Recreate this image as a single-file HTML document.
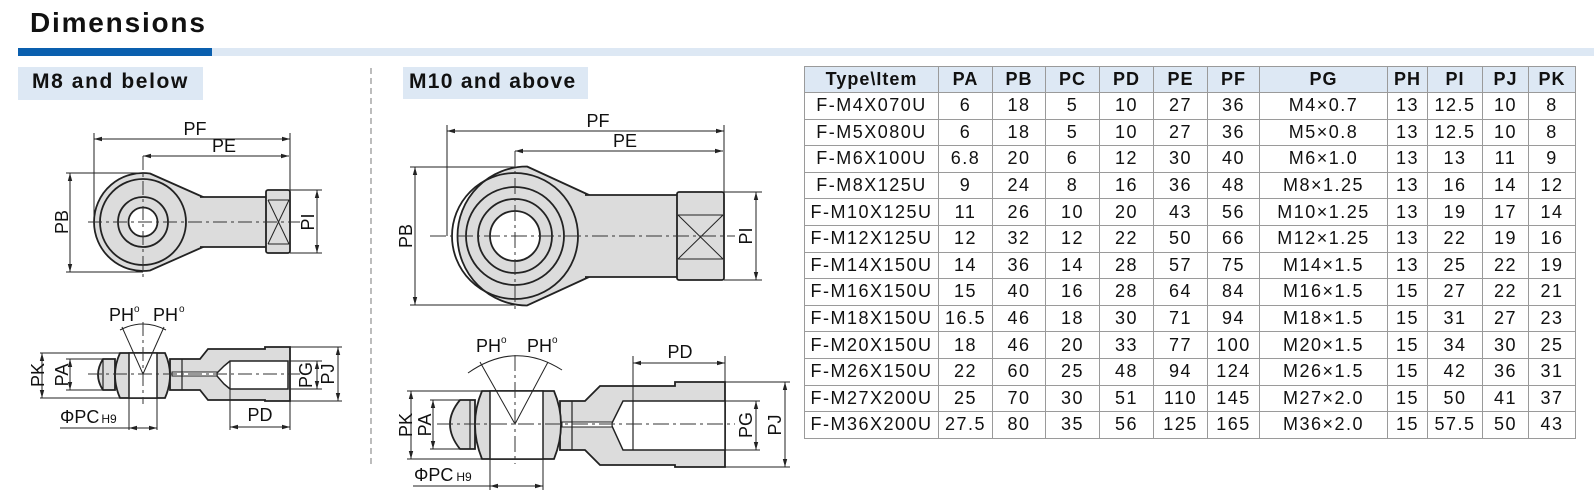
<!DOCTYPE html>
<html><head><meta charset="utf-8">
<style>
html,body{margin:0;padding:0;background:#fff;}
body{width:1594px;height:499px;position:relative;overflow:hidden;font-family:"Liberation Sans",Arial,sans-serif;}
.abs{position:absolute;}
table{border-collapse:collapse;position:absolute;left:804px;top:66px;table-layout:fixed;}
td,th{border:1px solid #9a9a9a;text-align:center;padding:0;font-size:18px;letter-spacing:1.5px;color:#111;white-space:nowrap;overflow:hidden;}
th{background:#dde8f4;font-weight:bold;height:25px;letter-spacing:1px;}
td{height:25.6px;}
</style></head><body>
<div class="abs" style="left:30px;top:7px;font-size:28px;font-weight:bold;letter-spacing:1.8px;color:#111;">Dimensions</div>
<div class="abs" style="left:18px;top:48px;width:1576px;height:8px;background:#dde8f4;"></div>
<div class="abs" style="left:18px;top:48px;width:194px;height:8px;background:#0a5fae;"></div>
<div class="abs" style="left:18px;top:67px;width:185px;height:33px;background:#dde8f4;"></div>
<div class="abs" style="left:32px;top:70px;font-size:21px;font-weight:bold;letter-spacing:1.6px;color:#111;">M8 and below</div>
<div class="abs" style="left:403px;top:67px;width:185px;height:32px;background:#dde8f4;"></div>
<div class="abs" style="left:409px;top:70px;font-size:21px;font-weight:bold;letter-spacing:1.3px;color:#111;">M10 and above</div>

<svg class="abs" style="left:0;top:0" width="800" height="499" viewBox="0 0 800 499" font-family="Liberation Sans, Arial, sans-serif" font-size="18" fill="#111">
<defs>
<marker id="a" markerWidth="8" markerHeight="6" refX="8" refY="3" orient="auto-start-reverse" markerUnits="userSpaceOnUse"><path d="M0,0.8 L8,3 L0,5.2Z" fill="#222"/></marker>
</defs>
<line x1="371" y1="68" x2="371" y2="465" stroke="#999" stroke-width="1.3" stroke-dasharray="6,4"/>

<!-- ===== LEFT TOP ===== -->
<g stroke="#222" stroke-width="1">
<line x1="94" y1="133" x2="94" y2="222"/>
<line x1="290" y1="133" x2="290" y2="190"/>
<line x1="94" y1="139" x2="290" y2="139" marker-start="url(#a)" marker-end="url(#a)"/>
<line x1="143" y1="156" x2="289" y2="156" marker-start="url(#a)" marker-end="url(#a)"/>
<line x1="66" y1="173" x2="143" y2="173"/>
<line x1="66" y1="272" x2="143" y2="272"/>
<line x1="70" y1="173" x2="70" y2="272" marker-start="url(#a)" marker-end="url(#a)"/>
<line x1="290" y1="190" x2="322" y2="190"/>
<line x1="290" y1="253" x2="322" y2="253"/>
<line x1="317" y1="190" x2="317" y2="253" marker-start="url(#a)" marker-end="url(#a)"/>
</g>
<g stroke="#222" stroke-width="1.8" fill="#dcdcdc">
<circle cx="195" cy="222" r="13"/>
<path d="M150,173.5 L203,197 L203,247 L150,270.5 A49,49 0 1 1 150,173.5Z"/>
<rect x="200" y="197" width="66" height="50" stroke="none"/>
<line x1="200" y1="197" x2="266" y2="197"/><line x1="200" y1="247" x2="266" y2="247"/>
<circle cx="143" cy="222" r="43" fill="none"/>
<circle cx="143" cy="222" r="25" fill="none"/>
<circle cx="143" cy="222" r="14.5" fill="#fff"/>
<rect x="266" y="190" width="24" height="63" rx="2"/>
</g>
<g stroke="#222" stroke-width="1"><line x1="268" y1="200" x2="289" y2="200"/><line x1="268" y1="244" x2="289" y2="244"/><line x1="268" y1="200" x2="289" y2="244"/><line x1="289" y1="200" x2="268" y2="244"/></g>
<g stroke="#333" stroke-width="1" stroke-dasharray="14,4,3,4"><line x1="88" y1="222" x2="300" y2="222"/><line x1="143" y1="156" x2="143" y2="278"/></g>
<text x="195" y="135" text-anchor="middle">PF</text>
<text x="224" y="152" text-anchor="middle">PE</text>
<text transform="translate(68,222) rotate(-90)" text-anchor="middle">PB</text>
<text transform="translate(314,222) rotate(-90)" text-anchor="middle">PI</text>

<!-- ===== LEFT BOTTOM ===== -->
<text x="109" y="321">PH</text><text x="134" y="312" font-size="10">o</text>
<text x="153" y="321">PH</text><text x="179" y="312" font-size="10">o</text>
<path d="M120,330 Q143,318 166,330" fill="none" stroke="#222" stroke-width="1"/>
<g stroke="#222" stroke-width="1.8" fill="#dcdcdc">
<path d="M103,359 L115,359 L115,390 L103,390 Q93,375 103,359Z"/>
<path d="M170,359 L182,359 L200,359 L208,349 L265,349 L265,347 L290,347 L290,401 L265,401 L265,400 L208,400 L200,390 L170,390Z"/>
<path d="M120,353 L165,353 Q175,375 165,398 L120,398 Q110,375 120,353Z"/>
<rect x="129" y="353" width="28" height="45" fill="#fff" stroke-width="1.5"/>
<path d="M230,361 L288,361 L288,389 L230,389 L224,384 L217,376 L217,373 L224,366Z" fill="#fff" stroke-width="1.5"/>
<rect x="172" y="372" width="45" height="4" fill="#fff" stroke-width="1"/>
</g>
<g stroke="#222" stroke-width="1.2"><line x1="103" y1="359" x2="103" y2="390"/><line x1="182" y1="359" x2="182" y2="390"/><line x1="230" y1="361" x2="230" y2="389"/></g>
<g stroke="#222" stroke-width="1" fill="none">
<line x1="143" y1="374" x2="122" y2="327"/><line x1="143" y1="374" x2="164" y2="327"/>
<line x1="40" y1="353" x2="120" y2="353"/><line x1="40" y1="398" x2="120" y2="398"/>
<line x1="42" y1="353" x2="42" y2="398" marker-start="url(#a)" marker-end="url(#a)"/>
<line x1="66" y1="359" x2="103" y2="359"/><line x1="66" y1="390" x2="103" y2="390"/>
<line x1="70" y1="359" x2="70" y2="390" marker-start="url(#a)" marker-end="url(#a)"/>
<line x1="290" y1="361" x2="322" y2="361"/><line x1="290" y1="389" x2="322" y2="389"/>
<line x1="317" y1="361" x2="317" y2="389" marker-start="url(#a)" marker-end="url(#a)"/>
<line x1="290" y1="347" x2="342" y2="347"/><line x1="290" y1="401" x2="342" y2="401"/>
<line x1="338" y1="347" x2="338" y2="401" marker-start="url(#a)" marker-end="url(#a)"/>
<line x1="129" y1="398" x2="129" y2="430"/><line x1="157" y1="398" x2="157" y2="430"/>
<line x1="60" y1="428" x2="129" y2="428"/>
<line x1="129" y1="428" x2="157" y2="428" marker-start="url(#a)" marker-end="url(#a)"/>
<line x1="230" y1="389" x2="230" y2="430"/><line x1="290" y1="401" x2="290" y2="430"/>
<line x1="230" y1="427" x2="290" y2="427" marker-start="url(#a)" marker-end="url(#a)"/>
</g>
<g stroke="#333" stroke-width="1" stroke-dasharray="14,4,3,4"><line x1="88" y1="374" x2="300" y2="374"/><line x1="143" y1="322" x2="143" y2="404"/></g>
<text transform="translate(44,375) rotate(-90)" text-anchor="middle">PK</text>
<text transform="translate(68,375) rotate(-90)" text-anchor="middle">PA</text>
<text transform="translate(312,375) rotate(-90)" text-anchor="middle">PG</text>
<text transform="translate(334,374) rotate(-90)" text-anchor="middle">PJ</text>
<text x="60" y="423">ΦPC<tspan font-size="12" dx="2">H9</tspan></text>
<text x="260" y="421" text-anchor="middle">PD</text>

<!-- ===== MIDDLE TOP ===== -->
<g stroke="#222" stroke-width="1">
<line x1="447" y1="125" x2="447" y2="236"/>
<line x1="724" y1="125" x2="724" y2="192"/>
<line x1="447" y1="131" x2="724" y2="131" marker-start="url(#a)" marker-end="url(#a)"/>
<line x1="515" y1="151" x2="723" y2="151" marker-start="url(#a)" marker-end="url(#a)"/>
<line x1="410" y1="167" x2="515" y2="167"/>
<line x1="410" y1="305" x2="515" y2="305"/>
<line x1="415" y1="167" x2="415" y2="305" marker-start="url(#a)" marker-end="url(#a)"/>
<line x1="724" y1="192" x2="762" y2="192"/>
<line x1="724" y1="280" x2="762" y2="280"/>
<line x1="756" y1="192" x2="756" y2="280" marker-start="url(#a)" marker-end="url(#a)"/>
</g>
<g stroke="#222" stroke-width="1.8" fill="#dcdcdc">
<circle cx="598" cy="236" r="15"/>
<path d="M527,166.5 L589,195 L589,277 L527,305.5 A69,69 0 1 1 527,166.5Z"/>
<rect x="585" y="195" width="92" height="82" stroke="none"/>
<line x1="585" y1="195" x2="677" y2="195"/><line x1="585" y1="277" x2="677" y2="277"/>
<circle cx="515" cy="236" r="63" fill="none"/>
<circle cx="515" cy="236" r="49" fill="none"/>
<circle cx="515" cy="236" r="37" fill="none"/>
<circle cx="515" cy="236" r="25" fill="#fff"/>
<rect x="677" y="192" width="47" height="88" rx="2"/>
</g>
<g stroke="#222" stroke-width="1"><line x1="678" y1="215" x2="723" y2="215"/><line x1="678" y1="259" x2="723" y2="259"/><line x1="678" y1="215" x2="723" y2="259"/><line x1="723" y1="215" x2="678" y2="259"/></g>
<g stroke="#333" stroke-width="1" stroke-dasharray="16,4,3,4"><line x1="430" y1="236" x2="735" y2="236"/><line x1="515" y1="151" x2="515" y2="312"/></g>
<text x="598" y="127" text-anchor="middle">PF</text>
<text x="625" y="147" text-anchor="middle">PE</text>
<text transform="translate(412,236) rotate(-90)" text-anchor="middle">PB</text>
<text transform="translate(752,236) rotate(-90)" text-anchor="middle">PI</text>

<!-- ===== MIDDLE BOTTOM ===== -->
<text x="476" y="352">PH</text><text x="501" y="343" font-size="10">o</text>
<text x="527" y="352">PH</text><text x="552" y="343" font-size="10">o</text>
<path d="M468,373 Q515,340 562,370" fill="none" stroke="#222" stroke-width="1"/>
<g stroke="#222" stroke-width="1.8" fill="#dcdcdc">
<path d="M460,400 L475,400 L475,449 L460,449 Q440,424 460,400Z"/>
<path d="M560,401 L585,401 L600,386 L675,386 L675,382 L725,382 L725,467 L675,467 L675,465 L600,465 L585,450 L560,450Z"/>
<path d="M482,391 L554,391 Q568,424 554,459 L482,459 Q468,424 482,391Z"/>
<rect x="490" y="391" width="53" height="68" fill="#fff" stroke-width="1.5"/>
<path d="M633,401 L725,401 L725,450 L633,450 L623,450 L612,426 L612,423 L623,401Z" fill="#fff" stroke-width="1.5"/>
<rect x="562" y="422" width="50" height="5" fill="#fff" stroke-width="1"/>
</g>
<g stroke="#222" stroke-width="1.2"><line x1="470" y1="400" x2="470" y2="449"/><line x1="572" y1="401" x2="572" y2="450"/><line x1="633" y1="401" x2="633" y2="450"/></g>
<g stroke="#222" stroke-width="1" fill="none">
<line x1="515" y1="424" x2="480" y2="362"/><line x1="515" y1="424" x2="548" y2="362"/>
<line x1="407" y1="391" x2="482" y2="391"/><line x1="407" y1="459" x2="482" y2="459"/>
<line x1="411" y1="391" x2="411" y2="459" marker-start="url(#a)" marker-end="url(#a)"/>
<line x1="430" y1="400" x2="460" y2="400"/><line x1="430" y1="449" x2="460" y2="449"/>
<line x1="433" y1="400" x2="433" y2="449" marker-start="url(#a)" marker-end="url(#a)"/>
<line x1="725" y1="401" x2="760" y2="401"/><line x1="725" y1="450" x2="760" y2="450"/>
<line x1="756" y1="401" x2="756" y2="450" marker-start="url(#a)" marker-end="url(#a)"/>
<line x1="725" y1="382" x2="790" y2="382"/><line x1="725" y1="467" x2="790" y2="467"/>
<line x1="785" y1="382" x2="785" y2="467" marker-start="url(#a)" marker-end="url(#a)"/>
<line x1="490" y1="459" x2="490" y2="490"/><line x1="543" y1="459" x2="543" y2="490"/>
<line x1="413" y1="486" x2="490" y2="486"/>
<line x1="490" y1="486" x2="543" y2="486" marker-start="url(#a)" marker-end="url(#a)"/>
<line x1="633" y1="356" x2="633" y2="401"/><line x1="725" y1="356" x2="725" y2="382"/>
<line x1="633" y1="363" x2="725" y2="363" marker-start="url(#a)" marker-end="url(#a)"/>
</g>
<g stroke="#333" stroke-width="1" stroke-dasharray="16,4,3,4"><line x1="437" y1="424" x2="735" y2="424"/><line x1="515" y1="355" x2="515" y2="464"/></g>
<text transform="translate(412,425) rotate(-90)" text-anchor="middle">PK</text>
<text transform="translate(431,425) rotate(-90)" text-anchor="middle">PA</text>
<text transform="translate(752,425) rotate(-90)" text-anchor="middle">PG</text>
<text transform="translate(781,425) rotate(-90)" text-anchor="middle">PJ</text>
<text x="414" y="481">ΦPC<tspan font-size="12" dx="3">H9</tspan></text>
<text x="680" y="358" text-anchor="middle">PD</text>
</svg>

<table>
<colgroup><col style="width:134px"><col style="width:54px"><col style="width:53px"><col style="width:54px"><col style="width:54px"><col style="width:54px"><col style="width:52px"><col style="width:128px"><col style="width:40px"><col style="width:55px"><col style="width:46px"><col style="width:47px"></colgroup>
<tr><th>Type\Item</th><th>PA</th><th>PB</th><th>PC</th><th>PD</th><th>PE</th><th>PF</th><th>PG</th><th>PH</th><th>PI</th><th>PJ</th><th>PK</th></tr>
<tr><td>F-M4X070U</td><td>6</td><td>18</td><td>5</td><td>10</td><td>27</td><td>36</td><td>M4×0.7</td><td>13</td><td>12.5</td><td>10</td><td>8</td></tr>
<tr><td>F-M5X080U</td><td>6</td><td>18</td><td>5</td><td>10</td><td>27</td><td>36</td><td>M5×0.8</td><td>13</td><td>12.5</td><td>10</td><td>8</td></tr>
<tr><td>F-M6X100U</td><td>6.8</td><td>20</td><td>6</td><td>12</td><td>30</td><td>40</td><td>M6×1.0</td><td>13</td><td>13</td><td>11</td><td>9</td></tr>
<tr><td>F-M8X125U</td><td>9</td><td>24</td><td>8</td><td>16</td><td>36</td><td>48</td><td>M8×1.25</td><td>13</td><td>16</td><td>14</td><td>12</td></tr>
<tr><td>F-M10X125U</td><td>11</td><td>26</td><td>10</td><td>20</td><td>43</td><td>56</td><td>M10×1.25</td><td>13</td><td>19</td><td>17</td><td>14</td></tr>
<tr><td>F-M12X125U</td><td>12</td><td>32</td><td>12</td><td>22</td><td>50</td><td>66</td><td>M12×1.25</td><td>13</td><td>22</td><td>19</td><td>16</td></tr>
<tr><td>F-M14X150U</td><td>14</td><td>36</td><td>14</td><td>28</td><td>57</td><td>75</td><td>M14×1.5</td><td>13</td><td>25</td><td>22</td><td>19</td></tr>
<tr><td>F-M16X150U</td><td>15</td><td>40</td><td>16</td><td>28</td><td>64</td><td>84</td><td>M16×1.5</td><td>15</td><td>27</td><td>22</td><td>21</td></tr>
<tr><td>F-M18X150U</td><td>16.5</td><td>46</td><td>18</td><td>30</td><td>71</td><td>94</td><td>M18×1.5</td><td>15</td><td>31</td><td>27</td><td>23</td></tr>
<tr><td>F-M20X150U</td><td>18</td><td>46</td><td>20</td><td>33</td><td>77</td><td>100</td><td>M20×1.5</td><td>15</td><td>34</td><td>30</td><td>25</td></tr>
<tr><td>F-M26X150U</td><td>22</td><td>60</td><td>25</td><td>48</td><td>94</td><td>124</td><td>M26×1.5</td><td>15</td><td>42</td><td>36</td><td>31</td></tr>
<tr><td>F-M27X200U</td><td>25</td><td>70</td><td>30</td><td>51</td><td>110</td><td>145</td><td>M27×2.0</td><td>15</td><td>50</td><td>41</td><td>37</td></tr>
<tr><td>F-M36X200U</td><td>27.5</td><td>80</td><td>35</td><td>56</td><td>125</td><td>165</td><td>M36×2.0</td><td>15</td><td>57.5</td><td>50</td><td>43</td></tr>
</table>
</body></html>
